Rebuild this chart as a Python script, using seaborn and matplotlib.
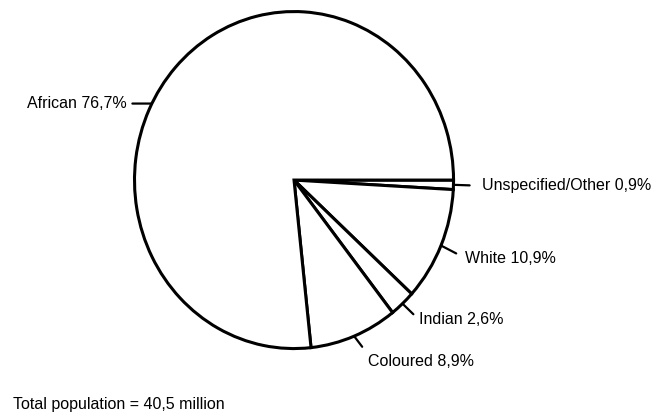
import numpy as np
import matplotlib
matplotlib.use("Agg")
import matplotlib.pyplot as plt
import seaborn as sns

# population groups, clockwise from 3 o'clock
groups = ["Unspecified/Other", "White", "Indian", "Coloured", "African"]
shares = [0.9, 10.9, 2.6, 8.9, 76.7]
share_text = ["0,9%", "10,9%", "2,6%", "8,9%", "76,7%"]
total_note = "Total population = 40,5 million"

sns.set_theme(style="white")
plt.rcParams["font.family"] = ["Liberation Sans", "DejaVu Sans"]

fig = plt.figure(figsize=(6.59, 4.17), dpi=100)
ax = fig.add_axes([0.192, 0.1439, 0.5083, 0.8486])

wedges, _ = ax.pie(shares, startangle=0, counterclock=False,
                   colors=["white"] * len(shares),
                   wedgeprops=dict(edgecolor="black", linewidth=2.2))
ax.set_aspect("auto")
ax.set_xlim(-1.05, 1.05)
ax.set_ylim(-1.05, 1.05)

# label layout: angle override, text offset (pt), alignment, leader anchor, gap
layout = {
    "Unspecified/Other": dict(angle=None, off=(20.6, -0.7), ha="left", rel=(0, 0.5), gap=6.6),
    "White": dict(angle=None, off=(17.3, -9.0), ha="left", rel=(0, 0.5), gap=4.5),
    "Indian": dict(angle=None, off=(12.0, -11.7), ha="left", rel=(0, 0.5), gap=2.5),
    "Coloured": dict(angle=None, off=(10.0, -18.6), ha="left", rel=(0, 1.0), gap=4.0),
    "African": dict(angle=153, off=(-18.0, 0.0), ha="right", rel=(1, 0.5), gap=1.6),
}

for w, name, pct in zip(wedges, groups, share_text):
    cfg = layout[name]
    ang = cfg["angle"] if cfg["angle"] is not None else (w.theta1 + w.theta2) / 2
    x, y = np.cos(np.deg2rad(ang)), np.sin(np.deg2rad(ang))
    ax.annotate(f"{name} {pct}", xy=(x, y), xytext=cfg["off"],
                textcoords="offset points", ha=cfg["ha"], va="center",
                fontsize=11.5, color="black",
                arrowprops=dict(arrowstyle="-", color="black", lw=1.6,
                                relpos=cfg["rel"], shrinkA=cfg["gap"], shrinkB=0))

fig.text(13 / 659, 12 / 417, total_note, ha="left", va="center",
         fontsize=11.5, color="black")

fig.savefig("out.png", dpi=100, facecolor="white")
